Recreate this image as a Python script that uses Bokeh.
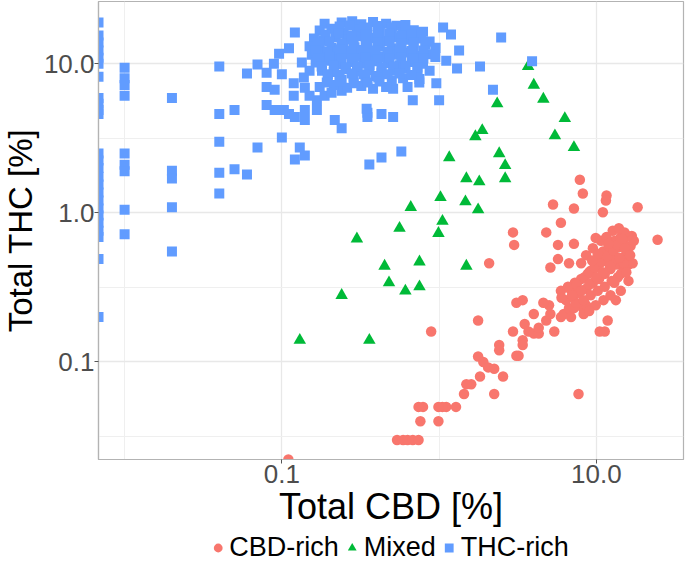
import numpy as np
from bokeh.plotting import figure
from bokeh.layouts import column, row
from bokeh.models import (Range1d, FixedTicker, CustomJSTickFormatter, Legend,
                          LegendItem, ColumnDataSource)
from bokeh.core.properties import value
from bokeh.embed import file_html
from bokeh.resources import INLINE

# Total CBD and total THC content (%) per sample, grouped by chemotype.
# A value of 0 is drawn on the panel edge (log scale, like -Inf in ggplot).

cbd_rich_cbd = [
    0.11,
    7.85, 8.2, 11.6, 11.5, 11.0, 18.3, 5.3, 7.2, 5.95, 4.8, 2.95, 3.0, 5.7, 7.2,
    9.9, 24.5, 16.8, 2.08, 5.7, 6.7, 5.1, 3.1, 3.4, 4.0, 1.77, 0.89, 2.95, 3.5,
    3.7, 4.0, 4.3, 3.4, 3.4, 2.41, 2.41, 3.2, 3.1, 1.77, 1.91, 2.05, 2.24, 2.55,
    1.82, 1.60, 1.49, 1.44, 2.24, 1.28, 1.11, 1.05, 0.99, 0.99, 0.74, 0.79, 0.76,
    0.54, 0.59, 0.63, 0.68, 0.74, 7.7, 11.8, 10.5, 11.3, 4.3, 4.8, 5.4, 5.95, 6.2,
    5.1, 6.7, 6.9, 8.3, 8.2, 7.2, 8.6, 5.0, 4.6,
    6.4, 7.1, 7.7, 8.6, 9.5, 10.4, 11.3, 12.3, 13.5, 14.5, 15.6, 16.5, 17.3,
    5.95, 6.6, 7.3, 8.0, 8.8, 9.6, 10.5, 11.6, 12.7, 13.9, 14.9, 15.8,
    7.4, 8.3, 9.2, 10.2, 11.3, 12.5, 13.7, 14.9, 16.0,
    9.2, 10.0, 11.0, 12.0, 13.1, 14.3, 12.7, 13.9, 15.1, 14.3, 16.0,
    8.0, 8.6, 9.5, 10.7, 11.6, 12.7, 15.4, 17.0, 11.1, 9.9, 9.0, 12.3, 13.3,
    14.3, 14.9,
    6.0, 6.8, 7.5, 8.4, 9.0, 9.8, 10.8, 11.8, 12.9, 13.6, 14.6, 15.2, 16.4,
    14.0, 12.2, 11.0, 10.0, 9.0, 8.0, 7.0, 13.0, 15.5, 11.9, 10.2, 9.4,
]
cbd_rich_thc = [
    0.0,
    1.67, 1.35, 1.31, 1.21, 1.01, 1.09, 1.14, 1.07, 0.86, 0.74, 0.74, 0.61, 0.61, 0.62,
    0.68, 0.66, 0.70, 0.46, 0.49, 0.46, 0.43, 0.25, 0.26, 0.21, 0.19, 0.16, 0.16, 0.18,
    0.16, 0.155, 0.155, 0.14, 0.13, 0.13, 0.12, 0.11, 0.11, 0.109, 0.10, 0.092, 0.090, 0.080,
    0.080, 0.071, 0.071, 0.061, 0.061, 0.05, 0.05, 0.05, 0.05, 0.04, 0.05, 0.05, 0.04,
    0.03, 0.03, 0.03, 0.03, 0.03, 0.061, 0.19, 0.16, 0.16, 0.17, 0.19, 0.16, 0.20, 0.21,
    0.21, 0.23, 0.20, 0.21, 0.23, 0.23, 0.24, 0.24, 0.25,
    0.26, 0.27, 0.29, 0.31, 0.34, 0.36, 0.39, 0.42, 0.45, 0.49, 0.54, 0.60, 0.65,
    0.30, 0.32, 0.34, 0.36, 0.39, 0.42, 0.46, 0.49, 0.54, 0.59, 0.64, 0.70,
    0.25, 0.26, 0.28, 0.30, 0.32, 0.35, 0.37, 0.41, 0.45,
    0.41, 0.45, 0.55, 0.60, 0.65, 0.69, 0.76, 0.79, 0.74, 0.30, 0.35,
    0.46, 0.52, 0.58, 0.65, 0.69, 0.48, 0.52, 0.46, 0.26, 0.24, 0.22, 0.28, 0.26,
    0.39, 0.46,
    0.27, 0.31, 0.33, 0.37, 0.40, 0.43, 0.47, 0.51, 0.56, 0.61, 0.67, 0.58, 0.52,
    0.50, 0.44, 0.40, 0.37, 0.33, 0.30, 0.28, 0.34, 0.40, 0.62, 0.53, 0.48,
]

mixed_cbd = [3.68, 4.0, 4.6, 6.3, 5.45, 7.2, 2.34, 1.88, 1.70, 1.16, 2.41, 2.63,
             2.63, 1.49, 1.80, 1.02, 1.47, 1.77, 0.66, 1.05, 0.56, 0.99, 0.30,
             0.45, 0.75, 1.49, 0.48, 0.61, 0.75, 0.24, 0.36, 0.13]
mixed_thc = [9.6, 7.2, 5.8, 4.3, 3.3, 2.75, 5.4, 3.57, 3.25, 2.35, 2.5, 2.08,
             1.70, 1.70, 1.62, 1.27, 1.19, 1.05, 1.09, 0.88, 0.79, 0.73, 0.67,
             0.44, 0.47, 0.44, 0.34, 0.30, 0.32, 0.28, 0.14, 0.14]

thc_rich_cbd = (
    [0.0] * 25
    + [0.01] * 9
    + [0.02] * 5
    + [0.04] * 5
    + [0.050, 0.070, 0.050, 0.060, 0.060, 0.070, 0.080, 0.080, 0.090, 0.080,
       0.090, 0.103, 0.111, 0.121, 0.140, 0.140, 0.10, 0.130, 0.121, 0.140,
       0.089, 0.10, 0.096, 0.111, 0.121, 0.187, 0.119, 0.119, 0.140, 0.167,
       0.167, 0.217, 0.240, 0.138, 0.134, 0.150, 2.48, 3.9, 1.82, 2.2,
       1.34, 1.19, 1.06, 1.11, 1.30, 0.96, 1.0, 0.68, 0.63, 0.51,
       0.43, 0.51, 0.35, 0.35, 0.36, 0.43, 0.575, 0.187, 0.207, 0.24,
       0.748, 0.346, 0.15]
    + [0.24, 0.28, 0.32, 0.38, 0.46, 0.535,
       0.174, 0.207, 0.247, 0.30, 0.35, 0.42, 0.50, 0.59, 0.69, 0.79,
       0.16, 0.185, 0.22, 0.26, 0.31, 0.37, 0.44, 0.53, 0.63, 0.75, 0.87,
       0.15, 0.174, 0.207, 0.247, 0.29, 0.35, 0.42, 0.50, 0.575, 0.69, 0.82, 0.95,
       0.155, 0.185, 0.22, 0.26, 0.31, 0.37, 0.44, 0.53, 0.63, 0.73, 0.87,
       0.164, 0.196, 0.233, 0.278, 0.33, 0.39, 0.47, 0.56, 0.67, 0.79,
       0.18, 0.214, 0.255, 0.30, 0.36, 0.43, 0.51, 0.61, 0.73, 0.87,
       0.196, 0.24, 0.286, 0.34, 0.41, 0.50, 0.59, 0.75,
       0.174, 0.214, 0.26, 0.32, 0.38, 0.46]
    + [0.233, 0.270, 0.331, 0.406, 0.498, 0.61,
       0.19, 0.228, 0.278, 0.341, 0.406, 0.483, 0.575, 0.666, 0.77,
       0.17, 0.20, 0.24, 0.286, 0.341, 0.406, 0.483, 0.575, 0.686, 0.818,
       0.164, 0.196, 0.233, 0.278, 0.331, 0.394, 0.47, 0.56, 0.666, 0.794,
       0.17, 0.20, 0.24, 0.286, 0.341, 0.406, 0.483, 0.575, 0.686, 0.794, 0.946,
       0.179, 0.214, 0.255, 0.303, 0.361, 0.43, 0.513, 0.61, 0.727,
       0.196, 0.233, 0.278, 0.331, 0.394, 0.47, 0.56, 0.666,
       0.193, 0.233, 0.286, 0.351, 0.418]
)
thc_rich_thc = (
    [18.9, 15.5, 13.9, 12.3, 11.0, 10.0, 8.2, 5.9, 5.4, 4.9, 4.6, 2.5, 2.25,
     2.0, 1.75, 1.55, 1.37, 1.21, 1.07, 0.96, 0.86, 0.76, 0.69, 0.49, 0.2]
    + [9.4, 8.0, 7.2, 6.1, 2.5, 2.1, 1.9, 1.05, 0.72]
    + [5.9, 1.92, 1.7, 1.09, 0.55]
    + [9.6, 4.6, 3.0, 1.86, 1.35]
    + [4.9, 2.75, 1.96, 1.81, 8.6, 9.9, 8.7, 7.0, 6.7, 5.3,
       4.9, 4.9, 4.6, 4.4, 4.9, 4.2, 3.2, 2.75, 2.28, 2.43,
       10.0, 8.5, 11.7, 12.7, 16.2, 18.6, 7.4, 6.1, 6.9, 5.7,
       4.9, 4.2, 3.7, 8.1, 10.2, 9.0, 15.0, 10.4, 9.6, 6.7,
       12.3, 15.7, 17.5, 10.5, 9.3, 7.4, 5.7, 5.7, 7.0, 6.8,
       4.6, 4.4, 4.7, 4.4, 2.11, 2.35, 2.58, 6.1, 6.4, 6.6,
       7.5, 5.0, 6.1]
    + [18.9, 19.3, 18.4, 19.1, 18.6, 18.0,
       16.7, 17.2, 16.3, 16.9, 17.4, 16.5, 17.0, 16.2, 16.8, 16.4,
       14.8, 14.4, 15.1, 14.6, 15.3, 14.9, 14.2, 15.0, 14.5, 14.8, 14.1,
       13.1, 13.5, 12.8, 13.3, 12.9, 13.4, 13.0, 12.7, 13.2, 12.9, 13.4, 12.8,
       11.5, 11.8, 11.2, 11.6, 11.3, 11.7, 11.1, 11.5, 11.9, 11.3, 11.6,
       10.2, 10.5, 9.9, 10.3, 10.0, 10.4, 10.1, 9.8, 10.3, 10.0,
       9.0, 8.8, 9.2, 8.9, 9.1, 8.7, 9.0, 9.3, 8.8, 9.0,
       8.0, 7.8, 8.2, 7.9, 8.1, 7.7, 8.0, 7.9,
       7.0, 7.2, 6.9, 7.1, 6.8, 7.0]
    + [17.8, 18.1, 17.5, 17.9, 17.6, 18.2,
       15.7, 15.9, 15.5, 15.8, 15.6, 15.9, 15.4, 15.7, 15.6,
       13.9, 14.1, 13.7, 14.0, 13.8, 13.9, 14.1, 13.7, 13.9, 14.0,
       12.3, 12.1, 12.5, 12.2, 12.4, 12.3, 12.0, 12.4, 12.2, 12.3,
       10.9, 11.1, 10.8, 10.9, 11.0, 10.7, 10.9, 11.0, 10.8, 10.9, 11.1,
       9.6, 9.7, 9.5, 9.6, 9.8, 9.5, 9.6, 9.7, 9.5,
       8.5, 8.4, 8.6, 8.5, 8.3, 8.5, 8.6, 8.4,
       7.5, 7.6, 7.4, 7.5, 7.6]
)

groups = ["CBD-rich", "Mixed", "THC-rich"]
x_title = "Total CBD [%]"
y_title = "Total THC [%]"

# Panel limits (log10 span of the frame)
X_LO, X_HI = 10 ** -2.166, 10 ** 1.554
Y_LO, Y_HI = 10 ** -1.654, 10 ** 1.418

RED, GREEN, BLUE = "#F8766D", "#00BA38", "#619CFF"
FONT = "Liberation Sans"
TOP, BOTTOM = 1, 74          # borders shared by the title strip and chart
STRIP_W = 40                 # width of the y-title strip


def to_panel(vals, lo):
    a = np.asarray(vals, dtype=float)
    return np.where(a <= 0, lo, a)


def bare(w, h, **kw):
    f = figure(width=w, height=h, output_backend="svg", toolbar_location=None,
               x_range=Range1d(0, 1), y_range=Range1d(0, 1),
               x_axis_location=None, y_axis_location=None, **kw)
    f.xgrid.visible = False
    f.ygrid.visible = False
    f.outline_line_color = None
    f.background_fill_color = "white"
    f.border_fill_color = "white"
    return f


# ---- main scatter panel ----
p = figure(width=685 - STRIP_W, height=533, output_backend="svg",
           toolbar_location=None, x_axis_type="log", y_axis_type="log",
           x_range=Range1d(X_LO, X_HI), y_range=Range1d(Y_LO, Y_HI),
           min_border_left=56, min_border_right=2, min_border_top=TOP,
           min_border_bottom=BOTTOM)
p.background_fill_color = "white"
p.border_fill_color = "white"
p.outline_line_color = "#b3b3b3"
p.outline_line_width = 1.2

fmt = CustomJSTickFormatter(code="return tick.toFixed(1);")
p.xaxis.ticker = FixedTicker(ticks=[0.1, 10], minor_ticks=[0.01, 1, 100])
p.yaxis.ticker = FixedTicker(ticks=[0.1, 1, 10],
                             minor_ticks=[10 ** -1.5, 10 ** -0.5, 10 ** 0.5])
for ax in (p.xaxis, p.yaxis):
    ax.formatter = fmt
    ax.axis_line_color = "#b3b3b3"
    ax.axis_line_width = 1.2
    ax.major_tick_line_color = "#555555"
    ax.major_tick_out = 4
    ax.major_tick_in = 0
    ax.minor_tick_line_color = None
    ax.major_label_text_font = FONT
    ax.major_label_text_font_size = "26px"
    ax.major_label_text_color = "#4d4d4d"
    ax.major_label_standoff = 0
p.xaxis.major_label_standoff = 1
p.xaxis.axis_label = x_title
p.xaxis.axis_label_text_font = FONT
p.xaxis.axis_label_text_font_size = "36px"
p.xaxis.axis_label_text_font_style = "normal"
p.xaxis.axis_label_text_color = "black"
p.xaxis.axis_label_standoff = 0

for g in (p.xgrid, p.ygrid):
    g.grid_line_color = "#e8e8e8"
    g.grid_line_width = 1.3
    g.minor_grid_line_color = "#efefef"
    g.minor_grid_line_width = 1.0

sources = [
    ColumnDataSource(dict(x=to_panel(cbd_rich_cbd, X_LO), y=to_panel(cbd_rich_thc, Y_LO))),
    ColumnDataSource(dict(x=to_panel(mixed_cbd, X_LO), y=to_panel(mixed_thc, Y_LO))),
    ColumnDataSource(dict(x=to_panel(thc_rich_cbd, X_LO), y=to_panel(thc_rich_thc, Y_LO))),
]
styles = [dict(marker="circle", size=10.5, fill_color=RED),
          dict(marker="triangle", size=12.5, fill_color=GREEN),
          dict(marker="square", size=10, fill_color=BLUE)]
for src, st in zip(sources, styles):
    p.scatter("x", "y", source=src, line_color=None, **st)

# ---- y-axis title strip ----
ylab = bare(STRIP_W, 533, min_border_left=0, min_border_right=0,
            min_border_top=TOP, min_border_bottom=BOTTOM)
ylab.text(x=[0.5], y=[0.5], text=[y_title], angle=np.pi / 2,
          text_align="center", text_baseline="middle",
          text_font=value(FONT), text_font_size="33px", text_color="black")

# ---- key strip underneath ----
k = bare(685, 28, min_border_left=92, min_border_right=2,
         min_border_top=0, min_border_bottom=0)
items = []
for name, st in zip(groups, styles):
    # one sample parked outside the strip's range; only its key entry shows
    r = k.scatter(x=[-5], y=[-5], line_color=None, **st)
    items.append(LegendItem(label=name, renderers=[r]))

legend = Legend(items=items, orientation="horizontal", location="center")
legend.label_text_font = FONT
legend.label_text_font_size = "27px"
legend.label_text_color = "black"
legend.glyph_width = 22
legend.glyph_height = 24
legend.label_standoff = 1
legend.spacing = 2
legend.padding = 0
legend.margin = 0
legend.border_line_color = None
legend.background_fill_color = None
k.add_layout(legend, "center")

layout = column(row(ylab, p, spacing=0), k, spacing=0)
open("out.html", "w").write(file_html(layout, INLINE))
